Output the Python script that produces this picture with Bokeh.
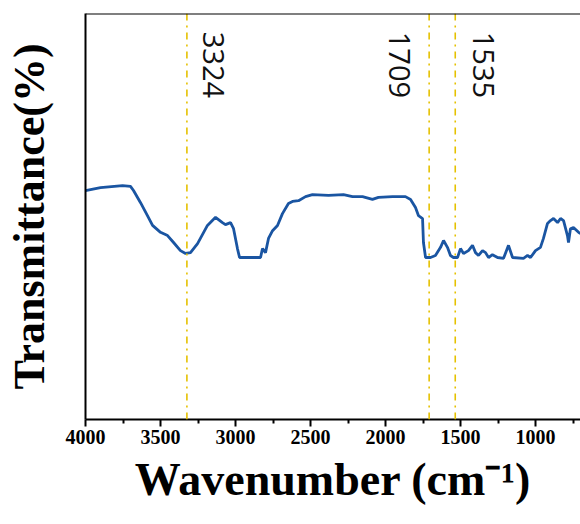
from bokeh.plotting import figure
from bokeh.models import Range1d, FixedTicker, Span, ColumnDataSource
from bokeh.embed import file_html
from bokeh.resources import INLINE
from bokeh.core.properties import value
import math

wavenumber = [4000, 3900, 3753, 3700, 3680, 3633, 3587, 3553, 3500, 3453, 3413, 3367,
              3333, 3300, 3253, 3187, 3133, 3087, 3067, 3033, 3013, 2987, 2973, 2833,
              2820, 2800, 2780, 2753, 2720, 2687, 2647, 2620, 2580, 2533, 2487, 2380,
              2280, 2220, 2153, 2087, 2047, 1953, 1867, 1833, 1800, 1780, 1753, 1747,
              1733, 1700, 1667, 1633, 1613, 1587, 1567, 1547, 1520, 1500, 1480, 1447,
              1420, 1400, 1380, 1353, 1333, 1313, 1287, 1253, 1213, 1180, 1153, 1080,
              1053, 1033, 1000, 967, 947, 920, 900, 880, 853, 833, 813, 787, 780, 767,
              747, 713, 700]
transmittance = [56.4, 57.1, 57.6, 57.4, 56.4, 53.4, 50.2, 47.8, 46.1, 45.3, 43.6, 41.6,
                 40.9, 41.1, 43.3, 47.8, 49.8, 48.5, 48.0, 48.5, 47.0, 42.1, 39.9, 39.9,
                 42.1, 41.1, 44.6, 46.5, 47.8, 50.7, 53.2, 53.7, 53.9, 54.9, 55.4, 55.2,
                 55.4, 54.9, 54.9, 54.2, 54.7, 54.9, 54.9, 54.2, 52.2, 50.2, 49.5, 43.6,
                 39.9, 39.9, 40.4, 42.4, 44.1, 42.4, 40.4, 39.9, 39.9, 42.1, 40.9, 41.6,
                 42.9, 41.1, 40.4, 41.6, 41.1, 39.9, 40.6, 39.9, 39.7, 42.9, 39.9, 39.7,
                 40.4, 39.9, 41.6, 42.4, 44.6, 48.3, 49.0, 49.5, 48.5, 49.5, 49.0, 45.3,
                 43.6, 47.0, 47.3, 46.1, 45.8]

peak_positions = [3324, 1709, 1535]
peak_labels = ["3324", "1709", "1535"]
label_offsets = [27, -30, 28]

x_ticks = [4000, 3500, 3000, 2500, 2000, 1500, 1000]
x_minor = [3750, 3250, 2750, 2250, 1750, 1250, 750]

x_title = "Wavenumber (cm\u207b\u00b9)"
y_title = "Transmittance(%)"

SERIF = "Liberation Serif"

p = figure(width=580, height=524, output_backend="svg", toolbar_location=None,
           x_range=Range1d(4000, 700), y_range=Range1d(0, 100),
           min_border_left=85, min_border_right=0, min_border_top=13, min_border_bottom=105)
p.grid.visible = False
p.outline_line_color = None
p.background_fill_color = "white"
p.border_fill_color = "white"

p.line(wavenumber, transmittance, line_color="#1A55A2", line_width=2.8)

for pos in peak_positions:
    p.add_layout(Span(location=pos, dimension="height", line_color="#E5C100",
                      line_width=1.6, line_dash="7 5 2 5"))

src = ColumnDataSource(dict(x=peak_positions, y=[95.5] * 3, t=peak_labels, xo=label_offsets))
p.text(x="x", y="y", text="t", x_offset="xo", source=src, angle=-math.pi / 2,
       text_align="left", text_baseline="alphabetic", text_font=value("Open Sans"),
       text_font_size="29px", text_color="#111111")

p.add_layout(Span(location=100, dimension="width", line_color="black", line_width=2))

xa = p.xaxis[0]
xa.ticker = FixedTicker(ticks=x_ticks, minor_ticks=x_minor)
xa.axis_line_width = 2
xa.major_tick_line_width = 2
xa.minor_tick_line_width = 2
xa.major_tick_out = 7
xa.major_tick_in = 0
xa.minor_tick_out = 4
xa.minor_tick_in = 0
xa.major_label_text_font = SERIF
xa.major_label_text_font_style = "bold"
xa.major_label_text_font_size = "20px"
xa.major_label_text_color = "black"
xa.major_label_standoff = 3
xa.axis_label = x_title
xa.axis_label_text_font = SERIF
xa.axis_label_text_font_style = "bold"
xa.axis_label_text_font_size = "46px"
xa.axis_label_text_color = "black"
xa.axis_label_standoff = 7

ya = p.yaxis[0]
ya.ticker = FixedTicker(ticks=[])
ya.axis_line_width = 2
ya.major_tick_line_color = None
ya.minor_tick_line_color = None
ya.axis_label = y_title
ya.axis_label_text_font = SERIF
ya.axis_label_text_font_style = "bold"
ya.axis_label_text_font_size = "44px"
ya.axis_label_text_color = "black"
ya.axis_label_standoff = 32

open("out.html", "w").write(file_html(p, INLINE))
